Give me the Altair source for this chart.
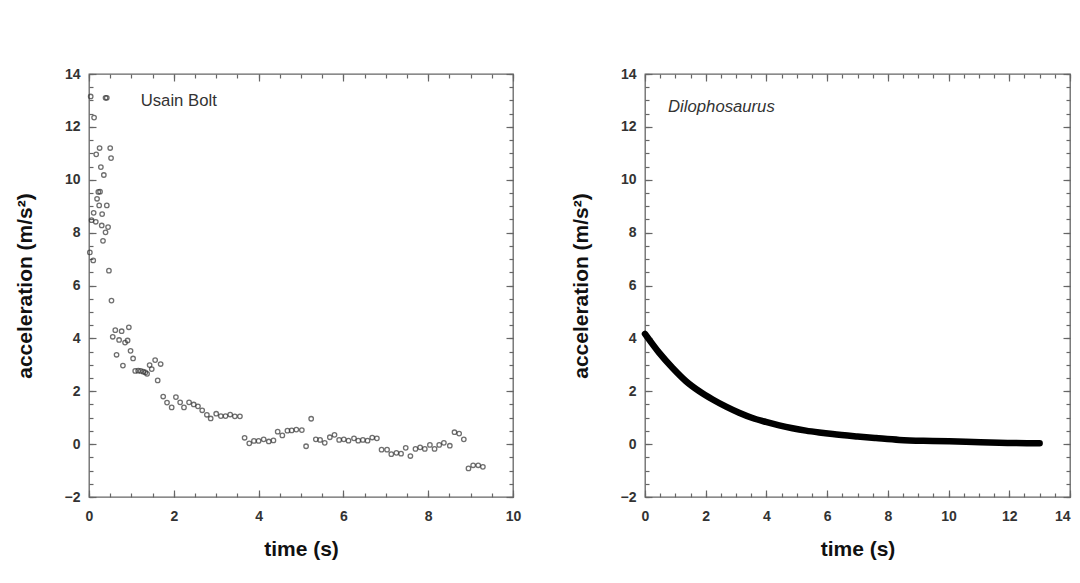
import altair as alt
import pandas as pd

# ---------------- data ----------------
bolt_t = [0.02, 0.04, 0.06, 0.10, 0.11, 0.12, 0.16, 0.17, 0.19, 0.22, 0.24, 0.25,
          0.26, 0.28, 0.30, 0.31, 0.33, 0.35, 0.39, 0.39, 0.42, 0.42, 0.45, 0.47,
          0.50, 0.52, 0.53, 0.56, 0.62, 0.65, 0.71, 0.77, 0.80, 0.85, 0.91, 0.94,
          0.98, 1.04, 1.09, 1.16, 1.22, 1.28, 1.33, 1.37, 1.43, 1.48, 1.56, 1.62,
          1.69, 1.75, 1.84, 1.95, 2.05, 2.15, 2.24, 2.36, 2.47, 2.57, 2.67, 2.78,
          2.87, 3.00, 3.11, 3.22, 3.33, 3.44, 3.56, 3.67, 3.78, 3.89, 4.00, 4.12,
          4.24, 4.35, 4.45, 4.56, 4.68, 4.78, 4.89, 5.02, 5.12, 5.24, 5.35, 5.45,
          5.56, 5.68, 5.79, 5.90, 6.01, 6.12, 6.25, 6.35, 6.46, 6.57, 6.68, 6.79,
          6.90, 7.03, 7.13, 7.25, 7.36, 7.47, 7.58, 7.70, 7.81, 7.92, 8.04, 8.15,
          8.26, 8.37, 8.51, 8.62, 8.73, 8.84, 8.95, 9.06, 9.18, 9.29]
bolt_a = [7.25, 13.15, 8.47, 6.95, 8.75, 12.35, 8.41, 10.96, 9.28, 9.54, 9.03, 11.20,
          9.55, 10.48, 8.27, 8.70, 7.69, 10.18, 13.10, 8.01, 13.10, 9.03, 8.21, 6.56,
          11.20, 10.82, 5.43, 4.06, 4.31, 3.38, 3.94, 4.27, 2.97, 3.84, 3.92, 4.42,
          3.53, 3.24, 2.77, 2.78, 2.77, 2.74, 2.71, 2.66, 2.99, 2.84, 3.18, 2.41,
          3.03, 1.80, 1.57, 1.39, 1.78, 1.58, 1.39, 1.58, 1.50, 1.43, 1.28, 1.11,
          0.97, 1.15, 1.06, 1.06, 1.12, 1.05, 1.05, 0.24, 0.03, 0.12, 0.12, 0.18,
          0.10, 0.14, 0.47, 0.33, 0.51, 0.52, 0.55, 0.53, -0.08, 0.96, 0.18, 0.16,
          0.05, 0.26, 0.35, 0.16, 0.18, 0.13, 0.22, 0.13, 0.16, 0.13, 0.25, 0.22,
          -0.21, -0.21, -0.38, -0.33, -0.36, -0.14, -0.45, -0.18, -0.12, -0.18, -0.03, -0.18,
          -0.03, 0.05, -0.06, 0.45, 0.40, 0.18, -0.92, -0.80, -0.80, -0.86]

dilo_t = [0.00, 0.47, 0.91, 1.35, 1.79, 2.23, 2.67, 3.10, 3.54, 3.98, 4.42, 4.86,
          5.30, 5.74, 6.18, 7.00, 7.61, 8.38, 9.47, 10.57, 11.67, 13.00]
dilo_a = [4.17, 3.45, 2.88, 2.38, 2.00, 1.69, 1.42, 1.19, 0.99, 0.84, 0.71, 0.60,
          0.51, 0.44, 0.38, 0.29, 0.23, 0.16, 0.12, 0.09, 0.05, 0.03]

label_left = ["Usain Bolt"]
label_left_x = [1.22]
label_left_y = [12.96]
label_right = ["Dilophosaurus"]
label_right_x = [0.76]
label_right_y = [12.77]

y_major = [-2, 0, 2, 4, 6, 8, 10, 12, 14]
y_minor = [-2, -1.5, -1, -0.5, 0, 0.5, 1, 1.5, 2, 2.5, 3, 3.5, 4, 4.5, 5, 5.5, 6, 6.5,
           7, 7.5, 8, 8.5, 9, 9.5, 10, 10.5, 11, 11.5, 12, 12.5, 13, 13.5, 14]
xl_major = [0, 2, 4, 6, 8, 10]
xl_minor = [0, 0.5, 1, 1.5, 2, 2.5, 3, 3.5, 4, 4.5, 5, 5.5, 6, 6.5, 7, 7.5, 8, 8.5,
            9, 9.5, 10]
xr_major = [0, 2, 4, 6, 8, 10, 12, 14]
xr_minor = [0, 0.5, 1, 1.5, 2, 2.5, 3, 3.5, 4, 4.5, 5, 5.5, 6, 6.5, 7, 7.5, 8, 8.5,
            9, 9.5, 10, 10.5, 11, 11.5, 12, 12.5, 13, 13.5, 14]

FONT = "Liberation Sans"
AXC = "#666666"
TXT = "#333333"


def panel(df, xdom, xmaj, xmin, W, H, data_layer_fn, lab_df, italic, last_x):
    xs = alt.Scale(domain=xdom, nice=False, zero=False)
    ys = alt.Scale(domain=[-2, 14], nice=False, zero=False)

    main_x = alt.X("t:Q", scale=xs, axis=alt.Axis(
        values=xmaj, title="time (s)", tickSize=0, domain=False, grid=False,
        labelPadding=12, labelFont=FONT, labelFontSize=14, labelFontWeight="bold",
        labelColor=TXT, labelFlush=False,
        labelAlign=alt.condition(f"datum.value == {last_x}",
                                 alt.value("right"), alt.value("center")),
        titleFont=FONT, titleFontSize=21,
        titleFontWeight="bold", titleColor="#111111", titlePadding=15))
    main_y = alt.Y("a:Q", scale=ys, axis=alt.Axis(
        values=y_major, title="acceleration (m/s²)", tickSize=0, domain=False,
        grid=False, labelPadding=9, labelFont=FONT, labelFontSize=14,
        labelFontWeight="bold", labelColor=TXT, labelFlush=False,
        titleFont=FONT, titleFontSize=21, titleFontWeight="bold",
        titleColor="#111111", titlePadding=29))
    data = data_layer_fn(alt.Chart(df)).encode(x=main_x, y=main_y)

    text = alt.Chart(lab_df).mark_text(
        align="left", baseline="middle", font=FONT, fontSize=16.7,
        fontStyle="italic" if italic else "normal", color=TXT
    ).encode(
        x=alt.X("x:Q", scale=xs, axis=None),
        y=alt.Y("y:Q", scale=ys, axis=None),
        text="label:N",
    )

    def ticks(vx, vy, xo, yo, size):
        return alt.Chart(df).mark_point(opacity=0).encode(
            x=alt.X("t:Q", scale=xs, axis=alt.Axis(
                orient=xo, offset=-H, values=vx, tickSize=size, labels=False,
                domain=False, grid=False, title=None, tickColor=AXC, tickWidth=1.2)),
            y=alt.Y("a:Q", scale=ys, axis=alt.Axis(
                orient=yo, offset=-W, values=vy, tickSize=size, labels=False,
                domain=False, grid=False, title=None, tickColor=AXC, tickWidth=1.2)),
        )

    layers = [
        ticks(xmin, y_minor, "top", "right", 4),
        ticks(xmin, y_minor, "bottom", "left", 4),
        ticks(xmaj, y_major, "top", "right", 7),
        ticks(xmaj, y_major, "bottom", "left", 7),
        data,
        text,
    ]
    return alt.layer(*layers).resolve_scale(
        x="independent", y="independent").properties(width=W, height=H)


bolt_df = pd.DataFrame({"t": bolt_t, "a": bolt_a})
dilo_df = pd.DataFrame({"t": dilo_t, "a": dilo_a})
lab_l = pd.DataFrame({"label": label_left, "x": label_left_x, "y": label_left_y})
lab_r = pd.DataFrame({"label": label_right, "x": label_right_x, "y": label_right_y})

left = panel(
    bolt_df, [0, 10], xl_major, xl_minor, 424, 423,
    lambda c: c.mark_point(shape="circle", filled=False, size=20,
                           color="#333333", strokeWidth=1.3),
    lab_l, False, 99)

right = panel(
    dilo_df, [0, 14], xr_major, xr_minor, 425, 423,
    lambda c: c.mark_line(color="#000000", strokeWidth=6.5, strokeCap="round",
                          strokeJoin="round", interpolate="monotone"),
    lab_r, True, 14)

chart = alt.hconcat(left, right, spacing=47).properties(
    padding={"left": 5, "top": 58, "right": 0, "bottom": 0}
).configure_view(stroke=AXC, strokeWidth=1.3)

chart.save("out.html", embed_options={"renderer": "svg", "actions": False})
